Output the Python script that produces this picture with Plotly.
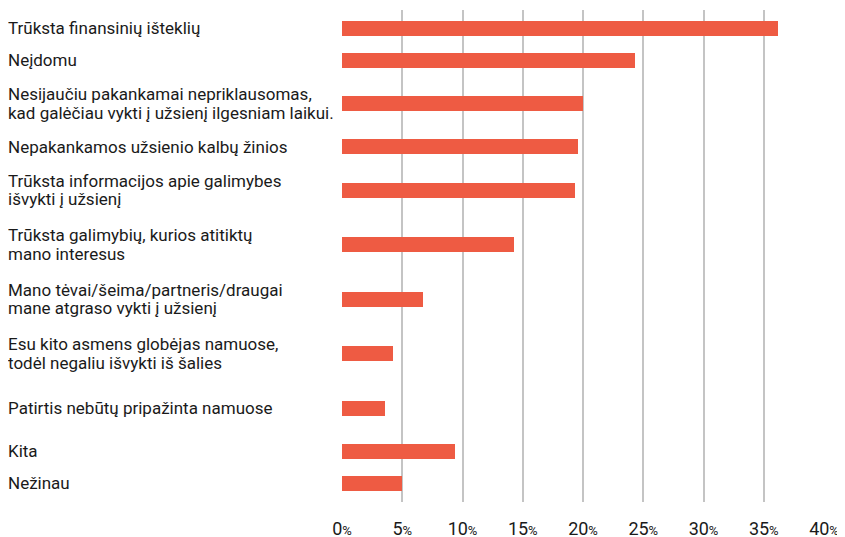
import plotly.graph_objects as go

# ---- data ----
labels = [
    "Trūksta finansinių išteklių",
    "Neįdomu",
    "Nesijaučiu pakankamai nepriklausomas,\nkad galėčiau vykti į užsienį ilgesniam laikui.",
    "Nepakankamos užsienio kalbų žinios",
    "Trūksta informacijos apie galimybes\nišvykti į užsienį",
    "Trūksta galimybių, kurios atitiktų\nmano interesus",
    "Mano tėvai/šeima/partneris/draugai\nmane atgraso vykti į užsienį",
    "Esu kito asmens globėjas namuose,\ntodėl negaliu išvykti iš šalies",
    "Patirtis nebūtų pripažinta namuose",
    "Kita",
    "Nežinau",
]
values = [36.2, 24.3, 20.0, 19.6, 19.3, 14.3, 6.7, 4.2, 3.6, 9.4, 5.0]
tick_values = [0, 5, 10, 15, 20, 25, 30, 35, 40]
tick_labels = [str(v) for v in tick_values]

# ---- layout helpers (row heights in text lines) ----
row_lines = [1, 1, 2, 1, 2, 2, 2, 2, 2, 1, 1]
row_h = [9.5 + 22.5 * n for n in row_lines]
centers = []
acc = 0
for h in row_h:
    centers.append(acc + h / 2)
    acc += h
total = acc

BAR = "#EE5B43"
FONT = "Roboto"
TXT = "#1a1a1a"

fig = go.Figure()
fig.add_trace(go.Bar(
    x=values, y=centers, orientation="h", width=15,
    marker=dict(color=BAR, line=dict(width=0)),
    hoverinfo="x",
))

W, H = 845, 537
ml, mr, mt, mb = 333.5, 28.5, 2, 43
pw = W - ml - mr
ph = H - mt - mb
label_x = (-3 - ml) / pw

annotations = []
for lab, yc in zip(labels, centers):
    lines = lab.split("\n")
    n = len(lines)
    lh = 18.5
    for i, ln in enumerate(lines):
        shift = ((n - 1) / 2 - i) * lh
        annotations.append(dict(
            text=ln, x=label_x, xref="paper", y=yc, yref="y",
            xanchor="left", yanchor="middle", yshift=shift,
            showarrow=False, align="left",
            font=dict(family=FONT, size=17, color=TXT),
        ))

fig.update_layout(
    width=W, height=H,
    margin=dict(l=ml, r=mr, t=mt, b=mb, pad=0),
    paper_bgcolor="white", plot_bgcolor="white",
    showlegend=False,
    bargap=0,
    annotations=annotations,
    xaxis=dict(
        range=[0, 40], tickvals=tick_values,
        ticktext=[f"{t}<span style='font-size:13px'>%</span>" for t in tick_labels],
        showgrid=True, gridcolor="#c4c4c4", gridwidth=1.5,
        zeroline=False, showline=False, ticks="",
        tickfont=dict(family=FONT, size=18, color=TXT),
        ticklabelstandoff=14,
        fixedrange=True,
    ),
    yaxis=dict(
        range=[ph - 2.3, -2.3], showgrid=False, zeroline=False,
        showticklabels=False, ticks="", showline=False, fixedrange=True,
    ),
)
fig.write_html("out.html")
